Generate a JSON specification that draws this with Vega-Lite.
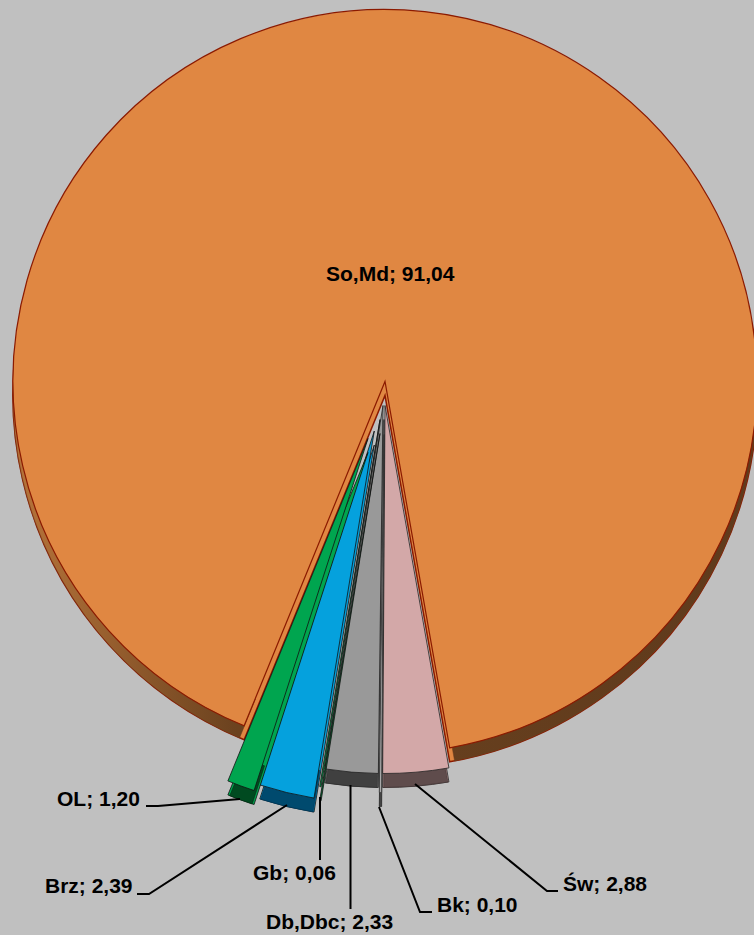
{"$schema":"https://vega.github.io/schema/vega-lite/v6.json","width":754,"height":935,"autosize":{"type":"none"},"padding":0,"background":"#c0c0c0","config":{"view":{"stroke":null}},
"datasets":{
"slices":[{"name":"Św","value":2.88,"order":1},{"name":"Bk","value":0.10,"order":2},{"name":"Db,Dbc","value":2.33,"order":3},{"name":"Gb","value":0.06,"order":4},{"name":"Brz","value":2.39,"order":5},{"name":"OL","value":1.20,"order":6},{"name":"So,Md","value":91.04,"order":7}],
"leaders":[{"id":"OL","seq":1,"px":146,"py":806},{"id":"OL","seq":2,"px":158,"py":806},{"id":"OL","seq":3,"px":240,"py":799},
{"id":"Brz","seq":1,"px":137,"py":894},{"id":"Brz","seq":2,"px":149,"py":894},{"id":"Brz","seq":3,"px":287,"py":805},
{"id":"Gb","seq":1,"px":320,"py":860},{"id":"Gb","seq":2,"px":320,"py":797},
{"id":"Db","seq":1,"px":350.5,"py":909},{"id":"Db","seq":2,"px":350.5,"py":785},
{"id":"Bk","seq":1,"px":432,"py":912},{"id":"Bk","seq":2,"px":420,"py":912},{"id":"Bk","seq":3,"px":379,"py":807},
{"id":"Sw","seq":1,"px":558,"py":891},{"id":"Sw","seq":2,"px":547,"py":891},{"id":"Sw","seq":3,"px":415,"py":784}],
"labels":[{"label":"So,Md; 91,04","px":326,"py":275},{"label":"OL; 1,20","px":57,"py":800},{"label":"Brz; 2,39","px":45,"py":887},{"label":"Gb; 0,06","px":253,"py":874},{"label":"Db,Dbc; 2,33","px":266,"py":923},{"label":"Bk; 0,10","px":437,"py":906},{"label":"Św; 2,88","px":563,"py":885}]
},
"layer":[
{"data":{"name":"slices"},
"transform":[{"stack":"value","as":["v0","v1"],"sort":[{"field":"order"}]}],
"encoding":{"theta":{"field":"v0","type":"quantitative","scale":{"domain":[0,100],"range":[2.967,9.25]}},"theta2":{"field":"v1"},"color":{"field":"name","type":"nominal","legend":null,"scale":{"domain":["So,Md","Św","Bk","Db,Dbc","Gb","Brz","OL"],"range":["#e08742","#d3a8a8","#aaaaaa","#999999","#00a54f","#05a1dd","#00a54f"]}}},
"layer":[
{"transform":[{"filter":"datum.name==='So,Md'"}],"mark":{"type":"arc","outerRadius":372,"xOffset":8,"yOffset":-72,"stroke":"#8b1a00","strokeWidth":1.5}},
{"transform":[{"filter":"datum.name==='So,Md'"}],"mark":{"type":"arc","outerRadius":372,"innerRadius":330,"padAngle":0.02,"xOffset":8,"yOffset":-72,"stroke":"#6e3a18","strokeWidth":0.5},"encoding":{"color":{"value":{"gradient":"linear","x1":0,"y1":0,"x2":1,"y2":0,"stops":[{"offset":0,"color":"#b8743a"},{"offset":0.3,"color":"#6b421f"},{"offset":1,"color":"#5f3a1c"}]}}}},
{"transform":[{"filter":"datum.name==='So,Md'"}],"mark":{"type":"arc","outerRadius":372,"xOffset":8,"yOffset":-86,"stroke":"#8b1a00","strokeWidth":1.2}},

{"transform":[{"filter":"datum.name==='Św'"}],"mark":{"type":"arc","outerRadius":368,"xOffset":8,"yOffset":-48,"stroke":"#222222","strokeWidth":0.8}},
{"transform":[{"filter":"datum.name==='Św'"}],"mark":{"type":"arc","outerRadius":368,"innerRadius":330,"padAngle":0.004,"xOffset":8,"yOffset":-48,"stroke":"#3f3333","strokeWidth":0.6},"encoding":{"color":{"value":"#5f4c4c"}}},
{"transform":[{"filter":"datum.name==='Św'"}],"mark":{"type":"arc","outerRadius":368,"xOffset":8,"yOffset":-62,"stroke":"#222222","strokeWidth":0.8}},

{"transform":[{"filter":"datum.name==='Db,Dbc'"}],"mark":{"type":"arc","outerRadius":368,"xOffset":6,"yOffset":-48,"stroke":"#222222","strokeWidth":0.8}},
{"transform":[{"filter":"datum.name==='Db,Dbc'"}],"mark":{"type":"arc","outerRadius":368,"innerRadius":330,"padAngle":0.004,"xOffset":6,"yOffset":-48,"stroke":"#2a2a2a","strokeWidth":0.6},"encoding":{"color":{"value":"#404040"}}},
{"transform":[{"filter":"datum.name==='Db,Dbc'"}],"mark":{"type":"arc","outerRadius":368,"xOffset":6,"yOffset":-62,"stroke":"#222222","strokeWidth":0.8}},

{"transform":[{"filter":"datum.name==='Bk'"}],"mark":{"type":"arc","outerRadius":372,"xOffset":7,"yOffset":-33,"stroke":"#222222","strokeWidth":0.8},"encoding":{"color":{"value":"#444444"}}},
{"transform":[{"filter":"datum.name==='Bk'"}],"mark":{"type":"arc","outerRadius":372,"xOffset":7,"yOffset":-47,"stroke":"#333333","strokeWidth":0.8}},

{"transform":[{"filter":"datum.name==='Gb'"}],"mark":{"type":"arc","outerRadius":372,"xOffset":3,"yOffset":-34,"stroke":"#111111","strokeWidth":0.8},"encoding":{"color":{"value":"#006a30"}}},
{"transform":[{"filter":"datum.name==='Gb'"}],"mark":{"type":"arc","outerRadius":372,"xOffset":3,"yOffset":-48,"stroke":"#111111","strokeWidth":0.8}},

{"transform":[{"filter":"datum.name==='Brz'"}],"mark":{"type":"arc","outerRadius":372,"xOffset":-2.7,"yOffset":-22.5,"stroke":"#111111","strokeWidth":0.8}},
{"transform":[{"filter":"datum.name==='Brz'"}],"mark":{"type":"arc","outerRadius":372,"innerRadius":330,"padAngle":0.004,"xOffset":-2.7,"yOffset":-22.5,"stroke":"#003050","strokeWidth":0.6},"encoding":{"color":{"value":"#004a6e"}}},
{"transform":[{"filter":"datum.name==='Brz'"}],"mark":{"type":"arc","outerRadius":372,"xOffset":-2.7,"yOffset":-36.5,"stroke":"#111111","strokeWidth":0.8}},

{"transform":[{"filter":"datum.name==='OL'"}],"mark":{"type":"arc","outerRadius":370,"xOffset":-9,"yOffset":-15,"stroke":"#111111","strokeWidth":0.8}},
{"transform":[{"filter":"datum.name==='OL'"}],"mark":{"type":"arc","outerRadius":370,"innerRadius":330,"padAngle":0.008,"xOffset":-9,"yOffset":-15,"stroke":"#002a10","strokeWidth":0.6},"encoding":{"color":{"value":"#004a20"}}},
{"transform":[{"filter":"datum.name==='OL'"}],"mark":{"type":"arc","outerRadius":370,"xOffset":-9,"yOffset":-29,"stroke":"#111111","strokeWidth":0.8}}
]},
{"data":{"name":"leaders"},"mark":{"type":"line","color":"#000000","strokeWidth":2,"clip":false},
"encoding":{"x":{"field":"px","type":"quantitative","axis":null,"scale":{"domain":[0,754],"nice":false,"zero":false}},"y":{"field":"py","type":"quantitative","axis":null,"scale":{"domain":[0,935],"reverse":true,"nice":false,"zero":false}},"detail":{"field":"id"},"order":{"field":"seq"}}},
{"data":{"name":"labels"},"mark":{"type":"text","font":"Liberation Sans","fontWeight":"bold","fontSize":21,"align":"left","baseline":"middle","color":"#000000"},
"encoding":{"x":{"field":"px","type":"quantitative","axis":null,"scale":{"domain":[0,754],"nice":false,"zero":false}},"y":{"field":"py","type":"quantitative","axis":null,"scale":{"domain":[0,935],"reverse":true,"nice":false,"zero":false}},"text":{"field":"label"}}}
]}
